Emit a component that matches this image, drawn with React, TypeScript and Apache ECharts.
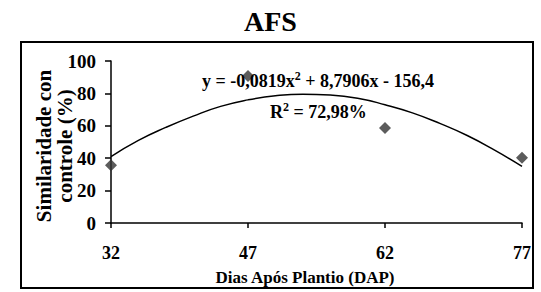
import React, { useEffect, useRef } from "react";
import * as echarts from "echarts";

const titleText = "AFS";
const xTicks = [32, 47, 62, 77];
const observedX = [32, 47, 62, 77];
const observedY = [35.6, 90.8, 58.7, 40.3];
// trend curve
const curveX = [32, 35, 38, 41, 44, 47, 50, 53, 56, 59, 62, 65, 68, 71, 74, 77];
const curveY = [41, 51, 59, 66, 72, 76, 78.5, 79.5, 79, 77, 73, 68, 61.5, 54, 45, 35];
const yMin = 0;
const yMax = 100;
const yStep = 20;
const xName = "Dias Após Plantio (DAP)";
const yName = "Similaridade con\ncontrole (%)";
const eqText = "y = -0,0819x{sup|2} + 8,7906x - 156,4";
const r2Text = "R{sup|2} = 72,98%";

const FONT = "'Liberation Serif', 'Times New Roman', Times, serif";

export default function App() {
  const ref = useRef<HTMLDivElement>(null);
  useEffect(() => {
    if (!ref.current) return;
    const chart = echarts.init(ref.current, undefined, { renderer: "svg" });
    const labelStyle = { fontFamily: FONT, fontWeight: "bold" as const, color: "#000" };
    chart.setOption({
      animation: false,
      backgroundColor: "#fff",
      title: {
        text: titleText,
        left: "center",
        top: 2,
        textStyle: { ...labelStyle, fontSize: 28 },
      },
      grid: { left: 111, right: 19, top: 61, bottom: 69 },
      xAxis: {
        type: "value",
        min: 32,
        max: 77,
        name: xName,
        nameLocation: "middle",
        nameGap: 46,
        nameTextStyle: { ...labelStyle, fontSize: 17, padding: [0, 23, 0, 0] },
        axisLine: { lineStyle: { color: "#000", width: 1.5 } },
        axisTick: { show: true, length: 5, customValues: xTicks, lineStyle: { color: "#000", width: 1.5 } },
        axisLabel: { ...labelStyle, fontSize: 18, margin: 21, customValues: xTicks },
        splitLine: { show: false },
      },
      yAxis: {
        type: "value",
        min: yMin,
        max: yMax,
        interval: yStep,
        axisLine: { show: true, lineStyle: { color: "#000", width: 1.5 } },
        axisTick: { show: true, length: 6, lineStyle: { color: "#000", width: 1.5 } },
        axisLabel: { ...labelStyle, fontSize: 19, margin: 15 },
        splitLine: { show: false },
      },
      series: [
        {
          type: "line",
          data: curveX.map((x, i) => [x, curveY[i]]),
          smooth: true,
          showSymbol: false,
          lineStyle: { color: "#000", width: 1.5 },
          z: 2,
        },
        {
          type: "scatter",
          data: observedX.map((x, i) => [x, observedY[i]]),
          symbol: "diamond",
          symbolSize: 12,
          itemStyle: { color: "#333" },
          z: 3,
        },
      ],
      graphic: [
        {
          type: "rect",
          shape: { x: 21, y: 42, width: 512, height: 246 },
          style: { fill: "none", stroke: "#000", lineWidth: 2 },
          z: -1,
          silent: true,
        },
        {
          type: "text",
          x: 54,
          y: 146,
          rotation: Math.PI / 2,
          style: {
            text: yName,
            fontFamily: FONT,
            fontWeight: "bold",
            fontSize: 21,
            lineHeight: 21,
            fill: "#000",
            align: "center",
            verticalAlign: "middle",
          },
          z: 10,
        },
        {
          type: "text",
          x: 202,
          y: 81,
          style: {
            text: eqText,
            fontFamily: FONT,
            fontWeight: "bold",
            fontSize: 18,
            fill: "#000",
            verticalAlign: "middle",
            rich: { sup: { fontSize: 12, fontFamily: FONT, fontWeight: "bold", verticalAlign: "top", padding: [0, 0, 10, 0] } },
          },
          z: 10,
        },
        {
          type: "text",
          x: 270,
          y: 112,
          style: {
            text: r2Text,
            fontFamily: FONT,
            fontWeight: "bold",
            fontSize: 18,
            fill: "#000",
            verticalAlign: "middle",
            rich: { sup: { fontSize: 12, fontFamily: FONT, fontWeight: "bold", verticalAlign: "top", padding: [0, 0, 10, 0] } },
          },
          z: 10,
        },
      ],
    });
    return () => chart.dispose();
  }, []);
  return (
    <div
      ref={ref}
      style={{ position: "absolute", left: 0, top: 0, width: 541, height: 292, background: "#fff" }}
    />
  );
}
